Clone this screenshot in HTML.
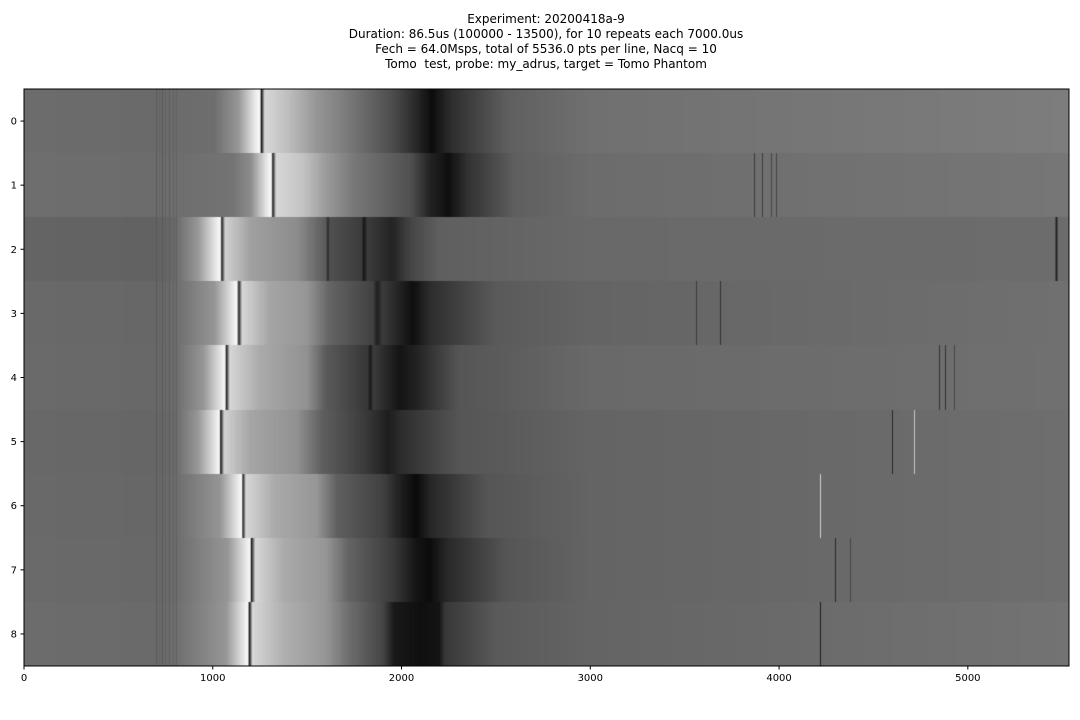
<!DOCTYPE html>
<html><head><meta charset="utf-8">
<style>
body{margin:0;background:#fff;font-family:"DejaVu Sans","Liberation Sans",sans-serif;}
#wrap{position:relative;width:1080px;height:720px;overflow:hidden;}
.t{position:absolute;left:0;width:1092px;text-align:center;font-size:12px;color:#000;white-space:pre;}
</style></head>
<body>
<div id="wrap">
<div class="t" style="top:12px">Experiment: 20200418a-9</div>
<div class="t" style="top:27px">Duration: 86.5us (100000 - 13500), for 10 repeats each 7000.0us</div>
<div class="t" style="top:42px">Fech = 64.0Msps, total of 5536.0 pts per line, Nacq = 10</div>
<div class="t" style="top:57px">Tomo  test, probe: my_adrus, target = Tomo Phantom</div>
<canvas id="cv" width="1045" height="577" style="position:absolute;left:24px;top:89px"></canvas>
<svg id="ax" width="1080" height="720" style="position:absolute;left:0;top:0"></svg>
</div>
<script>
const rowLabels=["0","1","2","3","4","5","6","7","8"];
const xTicks=[0,1000,2000,3000,4000,5000];
const nSamples=5536;
const row0=[[0,108],[700,106],[1005,110],[1135,150],[1225,235],[1250,250],[1258,20],[1275,215],[1400,190],[1550,150],[1700,125],[1960,75],[2080,40],[2160,12],[2260,45],[2560,95],[3000,112],[5536,125]];
const row1=[[0,110],[700,108],[1100,115],[1200,140],[1290,235],[1310,250],[1318,25],[1335,215],[1480,195],[1600,155],[1750,120],[2050,80],[2150,35],[2250,15],[2350,50],[2600,95],[3000,108],[5536,118]];
const row2=[[0,100],[700,98],[800,105],[920,150],[1020,235],[1040,250],[1048,25],[1065,210],[1200,160],[1450,140],[1600,90],[1610,40],[1620,80],[1790,60],[1800,20],[1820,60],[1950,35],[2050,70],[2200,95],[3000,105],[5460,108],[5470,30],[5480,108],[5536,108]];
const row3=[[0,105],[700,103],[800,108],[1010,150],[1110,235],[1128,250],[1138,30],[1155,215],[1300,165],[1500,150],[1620,100],[1850,65],[1870,30],[1900,60],[2060,15],[2150,45],[2500,90],[3000,100],[5536,112]];
const row4=[[0,106],[700,104],[800,108],[950,150],[1050,235],[1065,250],[1072,30],[1090,215],[1250,170],[1500,145],[1600,90],[1820,55],[1835,25],[1850,60],[1990,20],[2080,35],[2300,85],[3000,105],[5536,112]];
const row5=[[0,104],[700,102],[800,106],[920,150],[1020,235],[1035,250],[1042,20],[1060,210],[1200,165],[1450,145],[1580,95],[1800,60],[1930,30],[2000,45],[2300,85],[3000,100],[5536,110]];
const row6=[[0,105],[700,103],[800,108],[1040,150],[1135,235],[1153,250],[1160,25],[1175,215],[1330,170],[1550,150],[1660,95],[1900,65],[2000,30],[2080,10],[2160,40],[2450,85],[3000,100],[5536,110]];
const row7=[[0,106],[700,104],[800,108],[1080,150],[1180,235],[1198,250],[1205,25],[1225,215],[1380,170],[1600,150],[1720,100],[1950,60],[2080,20],[2150,12],[2240,40],[2550,85],[3000,100],[5536,110]];
const row8=[[0,108],[700,106],[800,110],[1070,150],[1170,235],[1185,250],[1195,25],[1210,215],[1380,175],[1600,150],[1720,110],[1900,70],[1960,25],[2100,15],[2200,20],[2230,55],[2500,90],[3000,100],[5536,115]];
const rows=[row0,row1,row2,row3,row4,row5,row6,row7,row8];
const lineRows=[1,1,1,1,4,4,4,5,5,6,7,7,8,3,3];
const linePos=[3870,3910,3960,3985,4850,4880,4930,4600,4720,4220,4300,4380,4220,3690,3560];
const lineGray=[60,60,70,70,50,50,70,40,200,210,40,70,30,50,60];
const stripePos=[700,720,735,750,770,790,810];
const stripeGray=[90,100,88,98,94,100,98];

const W=1045,H=577,X0=24,Y0=89;
const xs=v=>v/nSamples*W;
const ys=r=>r*H/rows.length;
function interp(st,s){
  for(let i=1;i<st.length;i++){ if(s<=st[i][0]){const a=st[i-1],b=st[i];const t=(s-a[0])/((b[0]-a[0])||1);return a[1]+(b[1]-a[1])*t;} }
  return st[st.length-1][1];
}
const ctx=document.getElementById('cv').getContext('2d');
rows.forEach((st,r)=>{
  const y0=Math.round(ys(r)),y1=Math.round(ys(r+1));
  for(let px=0;px<W;px++){
    const s=(px+0.5)/W*nSamples;
    const g=Math.round(interp(st,s));
    ctx.fillStyle=`rgb(${g},${g},${g})`;
    ctx.fillRect(px,y0,1,y1-y0);
  }
  stripePos.forEach((p,i)=>{const g=stripeGray[i];ctx.fillStyle=`rgb(${g},${g},${g})`;ctx.fillRect(Math.floor(xs(p)),y0,1,y1-y0);});
});
lineRows.forEach((r,i)=>{const g=lineGray[i];ctx.fillStyle=`rgb(${g},${g},${g})`;ctx.fillRect(Math.floor(xs(linePos[i])),Math.round(ys(r)),1,Math.round(ys(r+1))-Math.round(ys(r)));});

const svg=document.getElementById('ax');const NS='http://www.w3.org/2000/svg';
const fr=document.createElementNS(NS,'rect');
fr.setAttribute('x',X0);fr.setAttribute('y',Y0);fr.setAttribute('width',W);fr.setAttribute('height',H);
fr.setAttribute('fill','none');fr.setAttribute('stroke','#000');fr.setAttribute('stroke-width','1');


svg.appendChild(fr);
xTicks.forEach(v=>{
  const x=X0+xs(v);
  const l=document.createElementNS(NS,'line');
  l.setAttribute('x1',x);l.setAttribute('x2',x);l.setAttribute('y1',Y0+H);l.setAttribute('y2',Y0+H+3.5);l.setAttribute('stroke','#000');
  
  
  svg.appendChild(l);
  const t=document.createElementNS(NS,'text');
  t.setAttribute('x',x);t.setAttribute('y',Y0+H+15);t.setAttribute('text-anchor','middle');t.setAttribute('font-size','10');
  t.setAttribute('font-family','DejaVu Sans, Liberation Sans, sans-serif');t.textContent=v;
  
  
  svg.appendChild(t);
});
rowLabels.forEach((lab,r)=>{
  const y=Y0+ys(r+0.5);
  const l=document.createElementNS(NS,'line');
  l.setAttribute('x1',X0-3.5);l.setAttribute('x2',X0);l.setAttribute('y1',y);l.setAttribute('y2',y);l.setAttribute('stroke','#000');
  
  
  svg.appendChild(l);
  const t=document.createElementNS(NS,'text');
  t.setAttribute('x',X0-7);t.setAttribute('y',y+3.5);t.setAttribute('text-anchor','end');t.setAttribute('font-size','10');
  t.setAttribute('font-family','DejaVu Sans, Liberation Sans, sans-serif');t.textContent=lab;
  
  
  svg.appendChild(t);
});
</script>
</body></html>
